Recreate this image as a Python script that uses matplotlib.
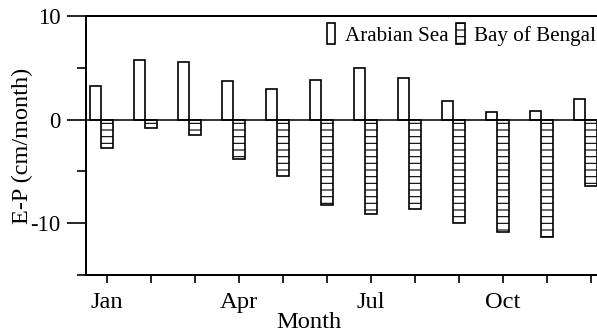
import numpy as np
import matplotlib.pyplot as plt

# monthly E-P, cm/month
months = np.arange(1, 13)
tick_labels = ["Jan", "", "", "Apr", "", "", "Jul", "", "", "Oct", "", ""]
arabian_sea = [3.24, 5.75, 5.59, 3.75, 2.92, 3.82, 4.95, 4.04, 1.80, 0.70, 0.83, 1.99]
bay_of_bengal = [-2.77, -0.84, -1.49, -3.80, -5.44, -8.24, -9.14, -8.63, -9.95, -10.82, -11.30, -6.40]

plt.rcParams["font.family"] = "Liberation Serif"
plt.rcParams["axes.unicode_minus"] = False
plt.rcParams["hatch.linewidth"] = 1.0

fig = plt.figure(figsize=(597 / 80, 334 / 80), dpi=80)
ax = fig.add_axes([86 / 597, 59 / 334, 511 / 597, 259 / 334])

width = 0.26
ax.bar(months - width, arabian_sea, width, color="white", edgecolor="black",
       linewidth=1.5, label="Arabian Sea")
ax.bar(months, bay_of_bengal, width, color="white", edgecolor="black",
       linewidth=1.5, hatch="--", label="Bay of Bengal")
ax.axhline(0, color="black", lw=1.4)

ax.set_xlim(0.523, 12.136)
ax.set_ylim(-15, 10)

# axes frame
ax.spines["right"].set_visible(False)
for side in ["left", "top", "bottom"]:
    ax.spines[side].set_linewidth(1.8)

ax.set_xticks(months)
ax.set_xticklabels(tick_labels)
ax.set_yticks([-10, 0, 10])
ax.set_yticks([-15, -5, 5], minor=True)
ax.tick_params(axis="y", which="major", direction="out", length=17, width=1.5,
               pad=6, labelsize=20.5)
ax.tick_params(axis="y", which="minor", direction="out", length=8, width=1.5)
ax.tick_params(axis="x", direction="out", length=7, width=1.5, pad=8,
               labelsize=22)

ax.set_ylabel("E-P (cm/month)", fontsize=21.8)
ax.yaxis.set_label_coords(-0.125, 0.5)
ax.yaxis.label.set_verticalalignment("center")
ax.set_xlabel("Month", fontsize=22)
ax.xaxis.set_label_coords(0.436, -0.143)

ax.legend(loc="upper right", bbox_to_anchor=(596 / 597, 1 - 22.7 / 334),
          bbox_transform=fig.transFigure, ncol=2, frameon=False, fontsize=19,
          handlelength=0.4, handleheight=1.2, handletextpad=0.45,
          columnspacing=0.36, borderpad=0, borderaxespad=0)

fig.savefig("out.png", dpi=80)
